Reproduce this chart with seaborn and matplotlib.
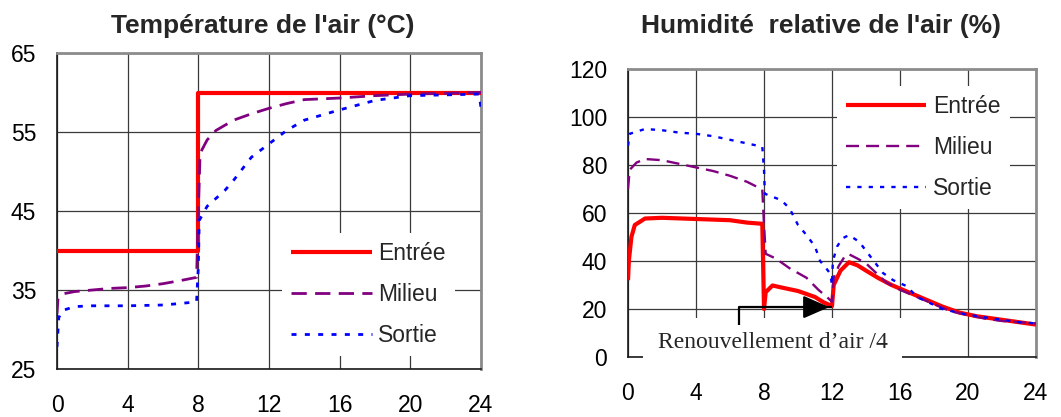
import numpy as np
import pandas as pd
import matplotlib
matplotlib.use("Agg")
import matplotlib.pyplot as plt
import seaborn as sns

# ---- Air temperature (°C) versus time (h) ----
t_entree_x = [0, 8, 8, 24]
t_entree_y = [40, 40, 60, 60]

t_milieu_x = [0, 0.05, 0.3, 1, 2, 3, 4, 5, 6, 7, 7.9, 8.0, 8.1, 8.5, 9, 10, 11, 12, 13, 14, 16, 18, 20, 22, 24]
t_milieu_y = [32, 33.8, 34.5, 34.8, 35.0, 35.2, 35.3, 35.5, 35.8, 36.2, 36.6, 45, 52.3, 54.0, 55.2, 56.5, 57.3, 58.0, 58.6, 59.1, 59.3, 59.6, 59.8, 59.9, 60.0]

t_sortie_x = [0, 0.1, 0.3, 1, 2, 4, 6, 7, 7.9, 8.0, 8.05, 8.5, 9, 9.5, 10, 11, 12, 13, 14, 16, 18, 20, 22, 23.9, 24]
t_sortie_y = [27.8, 31.5, 32.4, 32.9, 33.0, 33.0, 33.1, 33.3, 33.5, 38, 43.8, 45.6, 46.6, 47.6, 48.9, 51.8, 53.5, 55.2, 56.5, 57.8, 59.0, 59.6, 59.7, 59.8, 58.0]

# ---- Relative humidity (%) versus time (h) ----
h_entree_x = [0, 0.05, 0.2, 0.4, 1, 2, 4, 6, 7, 7.9, 8.0, 8.1, 8.5, 9, 10, 11, 11.5, 12.0,
              12.1, 12.5, 13, 13.5, 14, 14.7, 15.5, 16.5, 17.5, 18.5, 19.5, 20.5, 21.5, 22.5, 23.5, 24]
h_entree_y = [32, 40, 50, 55, 57.7, 58, 57.5, 57, 56, 55.5, 20, 27, 29.8, 29, 27.5, 25, 22.8, 21.2,
              30, 36, 39.5, 38.2, 36, 33, 30, 27, 24, 21, 18.5, 17, 16, 15, 14, 13.5]

h_milieu_x = [0, 0.1, 0.5, 1, 2, 3, 4, 5, 6, 7, 7.9, 8.0, 8.1, 8.7, 9.5, 10.5, 11.2, 11.7, 12.0,
              12.1, 12.4, 12.8, 13, 13.5, 14, 14.6, 15.2, 16, 17, 18, 19, 20, 21, 22, 23, 24]
h_milieu_y = [70, 78, 81, 82.5, 82, 80.5, 79, 77.5, 75.5, 73, 69.8, 55, 43, 41, 37, 33, 28, 25, 23,
              33, 38, 42.5, 42.8, 41, 39, 35, 31, 28, 25, 22, 19, 17.5, 16, 15, 14.5, 14]

h_sortie_x = [0, 0.1, 1, 2, 3, 4, 5, 6, 7, 7.9, 8.0, 8.05, 9, 9.5, 10, 10.5, 11, 11.3, 11.6, 11.9, 12.0,
              12.05, 12.3, 12.6, 13, 13.6, 14.2, 15.0, 15.6, 16.4, 17.0, 17.6, 18.5, 19.7, 21, 22, 23, 24]
h_sortie_y = [88, 93, 95, 94.5, 93.5, 93, 92, 90.5, 89, 87.6, 78, 68, 65.4, 62, 55, 50.8, 46, 40, 37.5, 34.7, 30,
              40, 46, 49.4, 50.8, 48, 42.4, 35, 32, 29.5, 25, 23, 20, 18, 16.5, 15.5, 14.5, 14]

# Annotation "Renouvellement d'air /4": elbow arrow pointing at hour 12
arrow_x = [6.5, 6.5, 12.0]
arrow_y = [13.3, 20.8, 20.8]
arrow_label = "Renouvellement d\u2019air /4"

series_names = ["Entrée", "Milieu", "Sortie"]
series_colors = {"Entrée": "#FF0000", "Milieu": "#800080", "Sortie": "#0000FF"}

sns.set_style("white")
plt.rcParams["font.family"] = ["Liberation Sans", "DejaVu Sans"]

fig = plt.figure(figsize=(10.61, 4.17), dpi=100)
ax_t = fig.add_axes([57 / 1061, 48 / 417, 424 / 1061, 316 / 417])
ax_h = fig.add_axes([628 / 1061, 60 / 417, 408 / 1061, 288 / 417])

styles = {
    "Entrée": dict(lw=3.0, linestyle="-"),
    "Milieu": dict(lw=2.0, dashes=(5.5, 3.0)),
    "Sortie": dict(lw=2.0, dashes=(1.8, 3.0)),
}


def draw(ax, data, lw_scale=1.0):
    for name, (xs, ys) in zip(series_names, data):
        st = dict(styles[name])
        st["lw"] = st["lw"] * lw_scale if name != "Entrée" else st["lw"]
        df = pd.DataFrame({"h": xs, "v": ys})
        sns.lineplot(data=df, x="h", y="v", ax=ax, color=series_colors[name],
                     estimator=None, sort=False, label=name, zorder=3,
                     solid_capstyle="butt", dash_capstyle="butt", **st)


draw(ax_t, [(t_entree_x, t_entree_y), (t_milieu_x, t_milieu_y), (t_sortie_x, t_sortie_y)])
draw(ax_h, [(h_entree_x, h_entree_y), (h_milieu_x, h_milieu_y), (h_sortie_x, h_sortie_y)], lw_scale=0.85)

hours = [0, 4, 8, 12, 16, 20, 24]
for ax, yt, ylim in [(ax_t, [25, 35, 45, 55, 65], (25, 65)),
                     (ax_h, [0, 20, 40, 60, 80, 100, 120], (0, 120))]:
    ax.set_xlim(0, 24)
    ax.set_ylim(*ylim)
    ax.set_xticks(hours)
    ax.set_yticks(yt)
    ax.set_xlabel("")
    ax.set_ylabel("")
    ax.grid(True, color="#3a3a3a", lw=0.9)
    ax.set_axisbelow(True)
    ax.tick_params(axis="both", which="both", direction="out", length=6, width=1.0,
                   color="#222222", labelsize=16.5, labelcolor="black")
    ax.tick_params(axis="x", pad=12)
    ax.tick_params(axis="y", pad=9)
    for side in ["left", "bottom"]:
        ax.spines[side].set_color("#1a1a1a")
        ax.spines[side].set_linewidth(1.2)
    for side in ["top", "right"]:
        ax.spines[side].set_visible(True)
        ax.spines[side].set_color("#8c8c8c")
        ax.spines[side].set_linewidth(2.0)

legend_kw = dict(loc="upper left", borderaxespad=0, frameon=True, fancybox=False,
                 edgecolor="none", facecolor="white", framealpha=1.0,
                 fontsize=16.5, handlelength=3.5, handletextpad=0.3,
                 labelspacing=0.78, borderpad=0.4)
ax_t.legend(bbox_to_anchor=(0.531, 0.43), **legend_kw)
ax_h.legend(bbox_to_anchor=(0.512, 0.94), **legend_kw)

fig.text(263 / 1061, 1 - 33 / 417, "Température de l'air (°C)", ha="center", va="baseline",
         fontsize=19, fontweight="bold")
fig.text(821 / 1061, 1 - 33 / 417, "Humidité  relative de l'air (%)", ha="center", va="baseline",
         fontsize=19, fontweight="bold")

# Elbow arrow and its label
ax_h.plot(arrow_x, arrow_y, color="black", lw=1.6, zorder=6, solid_capstyle="butt")
ax_h.annotate("", xy=(arrow_x[-1], arrow_y[-1]), xytext=(arrow_x[-1] - 1.2, arrow_y[-1]),
              arrowprops=dict(arrowstyle="-|>,head_length=0.8,head_width=0.35",
                              color="black", lw=1.6, mutation_scale=20), zorder=7)
ax_h.text(8.5, 6.0, arrow_label, ha="center", va="center", fontsize=17,
          family=["Liberation Serif", "DejaVu Serif"], zorder=5, clip_on=False,
          bbox=dict(boxstyle="square,pad=0.6", facecolor="white", edgecolor="none"))

fig.savefig("out.png", dpi=100, facecolor="white")
